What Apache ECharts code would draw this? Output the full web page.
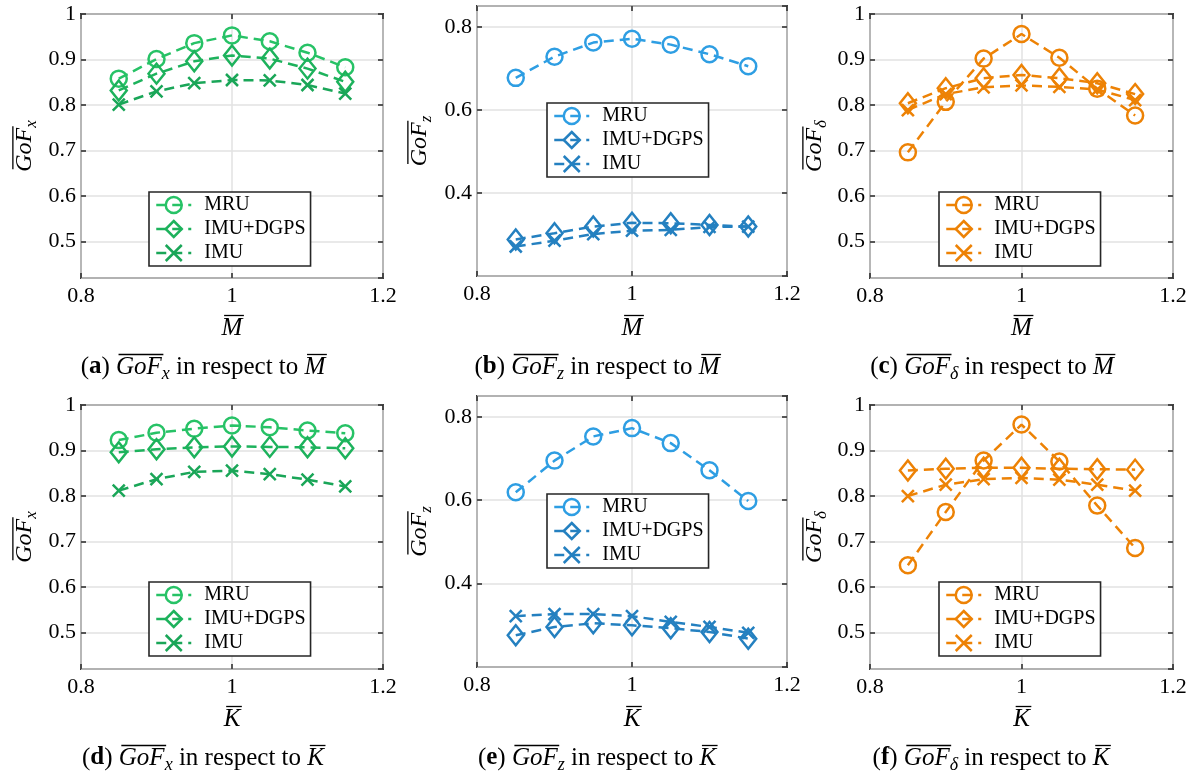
<!DOCTYPE html>
<html><head><meta charset="utf-8">
<script src="https://cdn.jsdelivr.net/npm/echarts@6/dist/echarts.min.js"></script>
<style>html,body{margin:0;padding:0;background:#fff}#c{width:1196px;height:778px}</style>
</head><body><div id="c"></div>
<script>
// ---------------- DATA ----------------
const xValues = [0.85, 0.90, 0.95, 1.00, 1.05, 1.10, 1.15];
const seriesNames = ['MRU', 'IMU+DGPS', 'IMU'];
const panelLetters = ['a', 'b', 'c', 'd', 'e', 'f'];
const xAxisVars = ['M', 'M', 'M', 'K', 'K', 'K'];
const ySubs = ['x', 'z', 'δ', 'x', 'z', 'δ'];

// (a) GoF_x vs M
const a_MRU  = [0.858, 0.901, 0.936, 0.953, 0.940, 0.915, 0.883];
const a_DGPS = [0.832, 0.869, 0.896, 0.909, 0.902, 0.880, 0.851];
const a_IMU  = [0.801, 0.830, 0.848, 0.855, 0.854, 0.844, 0.825];
// (b) GoF_z vs M
const b_MRU  = [0.677, 0.728, 0.762, 0.771, 0.757, 0.734, 0.705];
const b_DGPS = [0.288, 0.303, 0.319, 0.328, 0.327, 0.323, 0.319];
const b_IMU  = [0.271, 0.285, 0.301, 0.309, 0.311, 0.318, 0.319];
// (c) GoF_delta vs M
const c_MRU  = [0.696, 0.807, 0.902, 0.956, 0.904, 0.836, 0.777];
const c_DGPS = [0.804, 0.837, 0.859, 0.866, 0.859, 0.848, 0.824];
const c_IMU  = [0.789, 0.824, 0.839, 0.843, 0.840, 0.834, 0.811];
// (d) GoF_x vs K
const d_MRU  = [0.923, 0.939, 0.948, 0.955, 0.951, 0.944, 0.938];
const d_DGPS = [0.896, 0.903, 0.907, 0.909, 0.908, 0.907, 0.905];
const d_IMU  = [0.812, 0.837, 0.853, 0.856, 0.848, 0.836, 0.821];
// (e) GoF_z vs K
const e_MRU  = [0.619, 0.695, 0.753, 0.773, 0.737, 0.672, 0.598];
const e_DGPS = [0.276, 0.296, 0.305, 0.300, 0.293, 0.284, 0.268];
const e_IMU  = [0.322, 0.327, 0.327, 0.322, 0.308, 0.296, 0.282];
// (f) GoF_delta vs K
const f_MRU  = [0.648, 0.765, 0.878, 0.957, 0.876, 0.779, 0.686];
const f_DGPS = [0.856, 0.860, 0.862, 0.862, 0.860, 0.859, 0.858];
const f_IMU  = [0.800, 0.825, 0.837, 0.840, 0.836, 0.825, 0.812];

const xTickMin = 0.8, xTickMax = 1.2, xTickStep = 0.2;

// ---------------- STYLE / LAYOUT ----------------
const GREEN  = ['#27c266', '#1db25c', '#1aa658'];
const BLUE   = ['#2e9ee3', '#2480c0', '#2480c0'];
const ORANGE = ['#ed8205', '#ed8205', '#ed8205'];
const FONT = '"Liberation Serif", "Times New Roman", serif';
const AXC = '#262626';

const panels = [
  { data: [a_MRU, a_DGPS, a_IMU], colors: GREEN,  grid: {left: 81,  top: 14,  width: 302, height: 264}, y: [0.42, 1],   legend: {left: 149, top: 192}, yl: 25,  cap: [203, 367] },
  { data: [b_MRU, b_DGPS, b_IMU], colors: BLUE,   grid: {left: 477, top: 6,   width: 310, height: 270}, y: [0.2, 0.85], legend: {left: 547, top: 103}, yl: 420, cap: [597, 367] },
  { data: [c_MRU, c_DGPS, c_IMU], colors: ORANGE, grid: {left: 870, top: 14,  width: 303, height: 264}, y: [0.42, 1],   legend: {left: 939, top: 192}, yl: 815, cap: [992, 367] },
  { data: [d_MRU, d_DGPS, d_IMU], colors: GREEN,  grid: {left: 81,  top: 405, width: 302, height: 264}, y: [0.42, 1],   legend: {left: 149, top: 582}, yl: 25,  cap: [203, 758] },
  { data: [e_MRU, e_DGPS, e_IMU], colors: BLUE,   grid: {left: 477, top: 396, width: 310, height: 271}, y: [0.2, 0.85], legend: {left: 547, top: 494}, yl: 420, cap: [597, 758] },
  { data: [f_MRU, f_DGPS, f_IMU], colors: ORANGE, grid: {left: 870, top: 405, width: 303, height: 264}, y: [0.42, 1],   legend: {left: 939, top: 582}, yl: 815, cap: [991, 758] }
];

const SYMBOLS = ['circle', 'diamond', 'path://M0,0L10,10M0,10L10,0'];
const SYMSIZE = [16, [16, 20], 12];

// ---------------- TEXT HELPERS ----------------
const mctx = document.createElement('canvas').getContext('2d');
function fontStr(size, italic, bold) { return (italic ? 'italic ' : '') + (bold ? 'bold ' : '') + size + 'px ' + FONT; }
function measure(t, f) { mctx.font = f; return mctx.measureText(t).width; }
function buildLabel(segs, x, y, rotation) {
  let cx = 0; const texts = []; const overs = [];
  segs.forEach(s => {
    const f = fontStr(s.size, s.italic, s.bold);
    const w = measure(s.t, f);
    texts.push({ type: 'text', x: cx, y: s.dy || 0, style: { text: s.t, font: f, fill: '#000', verticalAlign: 'middle', align: 'left' } });
    if (s.over) overs.push([cx + s.size * 0.1, cx + w + s.size * 0.06, -(0.38 * s.size + 3)]);
    cx += w;
  });
  const half = cx / 2;
  texts.forEach(t => { t.x -= half; });
  const lines = overs.map(o => ({ type: 'line', shape: { x1: o[0] - half, y1: o[2], x2: o[1] - half, y2: o[2] }, style: { stroke: '#000', lineWidth: 1.3 } }));
  return { type: 'group', x: x, y: y, rotation: rotation || 0, children: texts.concat(lines) };
}

// ---------------- OPTION ----------------
const grids = [], xAxes = [], yAxes = [], series = [], legends = [], graphics = [];
panels.forEach((p, i) => {
  grids.push(Object.assign({ show: true, borderColor: AXC, borderWidth: 1.8, backgroundColor: '#fff', containLabel: false }, p.grid));
  const tick = { show: true, inside: true, length: 5, lineStyle: { color: AXC, width: 1.5 } };
  const yCommon = { type: 'value', gridIndex: i, min: p.y[0], max: p.y[1] };
  if (p.y[0] === 0.2) { yCommon.interval = 0.2; } else { yCommon.splitNumber = 6; }
  xAxes.push({ type: 'value', gridIndex: i, min: xTickMin, max: xTickMax, interval: xTickStep, position: 'bottom',
    axisLine: { show: false }, axisTick: tick,
    axisLabel: { margin: 7, color: '#000', fontFamily: FONT, fontSize: 22, formatter: v => String(+v.toFixed(2)) },
    splitLine: { show: true, lineStyle: { color: '#e2e2e2', width: 1.5 } } });
  xAxes.push({ type: 'value', gridIndex: i, min: xTickMin, max: xTickMax, interval: xTickStep, position: 'top',
    axisLine: { show: false }, axisTick: tick, axisLabel: { show: false }, splitLine: { show: false } });
  yAxes.push(Object.assign({}, yCommon, { position: 'left', axisLine: { show: false }, axisTick: tick,
    axisLabel: { margin: 5, color: '#000', fontFamily: FONT, fontSize: 22, showMinLabel: false, showMaxLabel: p.y[1] === 1,
      formatter: v => String(+v.toFixed(2)) },
    splitLine: { show: true, lineStyle: { color: '#e2e2e2', width: 1.5 } } }));
  yAxes.push(Object.assign({}, yCommon, { position: 'right', axisLine: { show: false }, axisTick: tick,
    axisLabel: { show: false }, splitLine: { show: false } }));

  const zw = '\u200B'.repeat(i);
  const names = seriesNames.map(n => n + zw);
  p.data.forEach((arr, k) => {
    series.push({
      type: 'line', name: names[k], xAxisIndex: 2 * i, yAxisIndex: 2 * i,
      data: xValues.map((x, j) => [x, arr[j]]),
      symbol: SYMBOLS[k], symbolSize: SYMSIZE[k], showAllSymbol: true,
      lineStyle: { color: p.colors[k], width: 2.5, type: [10, 6] },
      itemStyle: { color: 'transparent', borderColor: p.colors[k], borderWidth: 2.5 },
      emphasis: { disabled: true }, animation: false, z: 3 + k
    });
  });
  legends.push({
    data: names, orient: 'vertical', left: p.legend.left, top: p.legend.top,
    backgroundColor: '#fff', borderColor: AXC, borderWidth: 1.6, borderRadius: 0,
    padding: [3, 5, 3, 6], itemGap: 4, itemWidth: 35, itemHeight: 20,
    itemStyle: { borderWidth: 2.5, borderColor: 'inherit', color: 'transparent' },
    lineStyle: { width: 2.5 },
    textStyle: { fontFamily: FONT, fontSize: 20, color: '#000', lineHeight: 20, padding: [0, 0, 0, 8] },
    formatter: n => n.replace(/\u200B/g, ''),
    selectedMode: false
  });

  // axis names and captions
  const g = p.grid;
  const sub = ySubs[i];
  graphics.push(buildLabel([
    { t: 'GoF', size: 24, italic: true, over: true },
    { t: sub, size: 17, italic: true, dy: 7 }
  ], p.yl, g.top + g.height / 2, Math.PI / 2));
  graphics.push(buildLabel([{ t: xAxisVars[i], size: 25, italic: true, over: true }], g.left + g.width / 2, 328 + (i >= 3 ? 391 : 0)));
  graphics.push(buildLabel([
    { t: '(', size: 25 }, { t: panelLetters[i], size: 25, bold: true }, { t: ') ', size: 25 },
    { t: 'GoF', size: 25, italic: true, over: true },
    { t: sub, size: 18, italic: true, dy: 7 },
    { t: ' in respect to ', size: 25 },
    { t: xAxisVars[i], size: 25, italic: true, over: true }
  ], p.cap[0], p.cap[1]));
});

const chart = echarts.init(document.getElementById('c'), null, { renderer: 'canvas' });
chart.setOption({
  animation: false, backgroundColor: '#fff',
  grid: grids, xAxis: xAxes, yAxis: yAxes, series: series, legend: legends,
  graphic: { elements: graphics }
});
</script></body></html>
